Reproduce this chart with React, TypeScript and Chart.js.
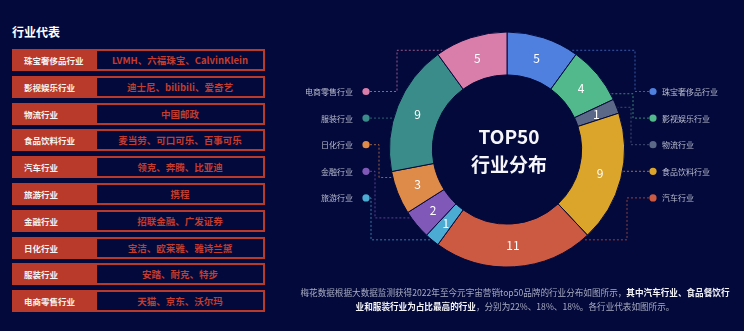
import React, { useEffect, useRef } from 'react';
import { Chart, registerables } from 'chart.js';

Chart.register(...registerables);

const BG = '#03093a';
const FONT = '"Noto Sans CJK SC", "Noto Sans", sans-serif';
const RED = '#b93a2b';

// ---- data ----
const industries = ['珠宝奢侈品行业', '影视娱乐行业', '物流行业', '食品饮料行业', '汽车行业', '旅游行业', '金融行业', '日化行业', '服装行业', '电商零售行业'];
const brandCounts = [5, 4, 1, 9, 11, 1, 2, 3, 9, 5];
const brandNames = ['LVMH、六福珠宝、CalvinKlein', '迪士尼、bilibili、爱奇艺', '中国邮政', '麦当劳、可口可乐、百事可乐', '领克、奔腾、比亚迪', '携程', '招联金融、广发证券', '宝洁、欧莱雅、雅诗兰黛', '安踏、耐克、特步', '天猫、京东、沃尔玛'];
const centerLines = ['TOP50', '行业分布'];
const rightLabelOrder = [0, 1, 2, 3, 4];
const leftLabelOrder = [9, 8, 7, 6, 5];

// ---- styles ----
const sliceColors = ['#4f7fdf', '#52b98d', '#5b6888', '#dba52b', '#cc5a43', '#4cabd3', '#8058b8', '#de8a48', '#3a8c8a', '#d97eab'];

function hexA(hex: string, a: number) {
  const n = parseInt(hex.slice(1), 16);
  return `rgba(${(n >> 16) & 255},${(n >> 8) & 255},${n & 255},${a})`;
}

const decorPlugin = {
  id: 'decor',
  afterDatasetsDraw(chart: any) {
    const ctx = chart.ctx as CanvasRenderingContext2D;
    const meta = chart.getDatasetMeta(0);
    const arcs = meta.data.map((a: any) => a.getProps(['x', 'y', 'startAngle', 'endAngle', 'innerRadius', 'outerRadius'], true));
    if (!arcs.length) return;
    const cx = arcs[0].x, cy = arcs[0].y, R = arcs[0].outerRadius;
    const data = chart.data.datasets[0].data as number[];
    ctx.save();
    // slice values
    ctx.fillStyle = '#ffffff';
    ctx.textAlign = 'center';
    ctx.textBaseline = 'middle';
    ctx.font = `12px ${FONT}`;
    arcs.forEach((arc: any, i: number) => {
      const mid = (arc.startAngle + arc.endAngle) / 2;
      const rr = (arc.innerRadius + arc.outerRadius) / 2;
      ctx.fillText(String(data[i]), arc.x + rr * Math.cos(mid), arc.y + rr * Math.sin(mid));
    });
    // center title
    ctx.font = `bold 19px ${FONT}`;
    ctx.fillStyle = '#f5f5fa';
    ctx.fillText(centerLines[0], cx + 2, cy - 13);
    ctx.fillText(centerLines[1], cx + 2, cy + 15);

    // labels with leader lines
    const drawSide = (order: number[], side: 1 | -1) => {
      order.forEach((idx, k) => {
        const arc = arcs[idx];
        const ly = cy - 58 + k * 26.6;
        const dotX = side === 1 ? cx + 146 : cx - 141;
        let s = (ly - cy) / R;
        s = Math.max(-1, Math.min(1, s));
        let th = side === 1 ? Math.asin(s) : Math.PI - Math.asin(s);
        const span = arc.endAngle - arc.startAngle;
        const m = Math.min(0.05, span / 2);
        th = Math.max(arc.startAngle + m, Math.min(arc.endAngle - m, th));
        const tx = cx + (R + 1) * Math.cos(th);
        const ty = cy + (R + 1) * Math.sin(th);
        const col = sliceColors[idx];
        ctx.strokeStyle = hexA(col, 0.7);
        ctx.lineWidth = 1;
        ctx.setLineDash([2, 2]);
        ctx.beginPath();
        if (Math.abs(ty - ly) < 3) {
          ctx.moveTo(dotX, ly);
          ctx.lineTo(tx, ly);
        } else {
          const ex = side === 1 ? dotX - 18 - k * 2 : dotX + (k === 0 ? 31 : 21 - k * 4);
          ctx.moveTo(dotX, ly);
          ctx.lineTo(ex, ly);
          ctx.lineTo(ex, ty);
          ctx.lineTo(tx, ty);
        }
        ctx.stroke();
        ctx.setLineDash([]);
        ctx.fillStyle = col;
        ctx.beginPath();
        ctx.arc(dotX, ly, 3.6, 0, Math.PI * 2);
        ctx.fill();
        ctx.fillStyle = '#b9bdd0';
        ctx.font = `8px ${FONT}`;
        ctx.textAlign = side === 1 ? 'left' : 'right';
        ctx.fillText(industries[idx], side === 1 ? dotX + 9 : dotX - 13, ly + 0.5);
      });
    };
    drawSide(rightLabelOrder, 1);
    drawSide(leftLabelOrder, -1);
    ctx.restore();
  },
};

function Doughnut() {
  const ref = useRef<HTMLCanvasElement | null>(null);
  useEffect(() => {
    if (!ref.current) return;
    const chart = new Chart(ref.current, {
      type: 'doughnut',
      data: {
        labels: industries,
        datasets: [{
          data: brandCounts,
          backgroundColor: sliceColors,
          borderColor: BG,
          borderWidth: 1,
          hoverOffset: 0,
        }],
      },
      options: {
        animation: false,
        responsive: true,
        maintainAspectRatio: false,
        cutout: '63.5%',
        layout: { padding: { top: 31.5, bottom: 32.5, left: 0, right: 0 } },
        plugins: { legend: { display: false }, tooltip: { enabled: false } },
        events: [],
      },
      plugins: [decorPlugin],
    } as any);
    return () => chart.destroy();
  }, []);
  return (
    <div style={{ position: 'absolute', left: 280, top: 0, width: 454, height: 300 }}>
      <canvas ref={ref} />
    </div>
  );
}

export default function App() {
  return (
    <div style={{ position: 'fixed', left: 0, top: 0, width: 744, height: 331, background: BG, overflow: 'hidden', fontFamily: FONT }}>
      <div style={{ position: 'absolute', left: 12, top: 23, fontSize: 12, fontWeight: 700, color: '#ffffff', lineHeight: '18px' }}>行业代表</div>
      {industries.map((name, i) => (
        <div key={name} style={{ position: 'absolute', left: 12, top: 49 + i * 26.8, width: 253, height: 22, boxSizing: 'border-box', border: `2px solid ${RED}`, display: 'flex' }}>
          <div style={{ width: 83, background: RED, color: '#f4f4f4', fontSize: 8.5, fontWeight: 700, display: 'flex', alignItems: 'center', paddingLeft: 10, boxSizing: 'border-box', whiteSpace: 'nowrap' }}>{name}</div>
          <div style={{ flex: 1, color: '#c33c2d', fontSize: 9.5, fontWeight: 700, display: 'flex', alignItems: 'center', justifyContent: 'center', whiteSpace: 'nowrap' }}>{brandNames[i]}</div>
        </div>
      ))}
      <Doughnut />
      <div style={{ position: 'absolute', left: 290, top: 285, width: 450, textAlign: 'center', fontSize: 8.6, lineHeight: '14px', color: '#a8acc2', whiteSpace: 'nowrap' }}>
        梅花数据根据大数据监测获得2022年至今元宇宙营销top50品牌的行业分布如图所示，<b style={{ color: '#f4f4f8' }}>其中汽车行业、食品餐饮行</b>
        <br />
        <b style={{ color: '#f4f4f8' }}>业和服装行业为占比最高的行业</b>，分别为22%、18%、18%。各行业代表如图所示。
      </div>
    </div>
  );
}
